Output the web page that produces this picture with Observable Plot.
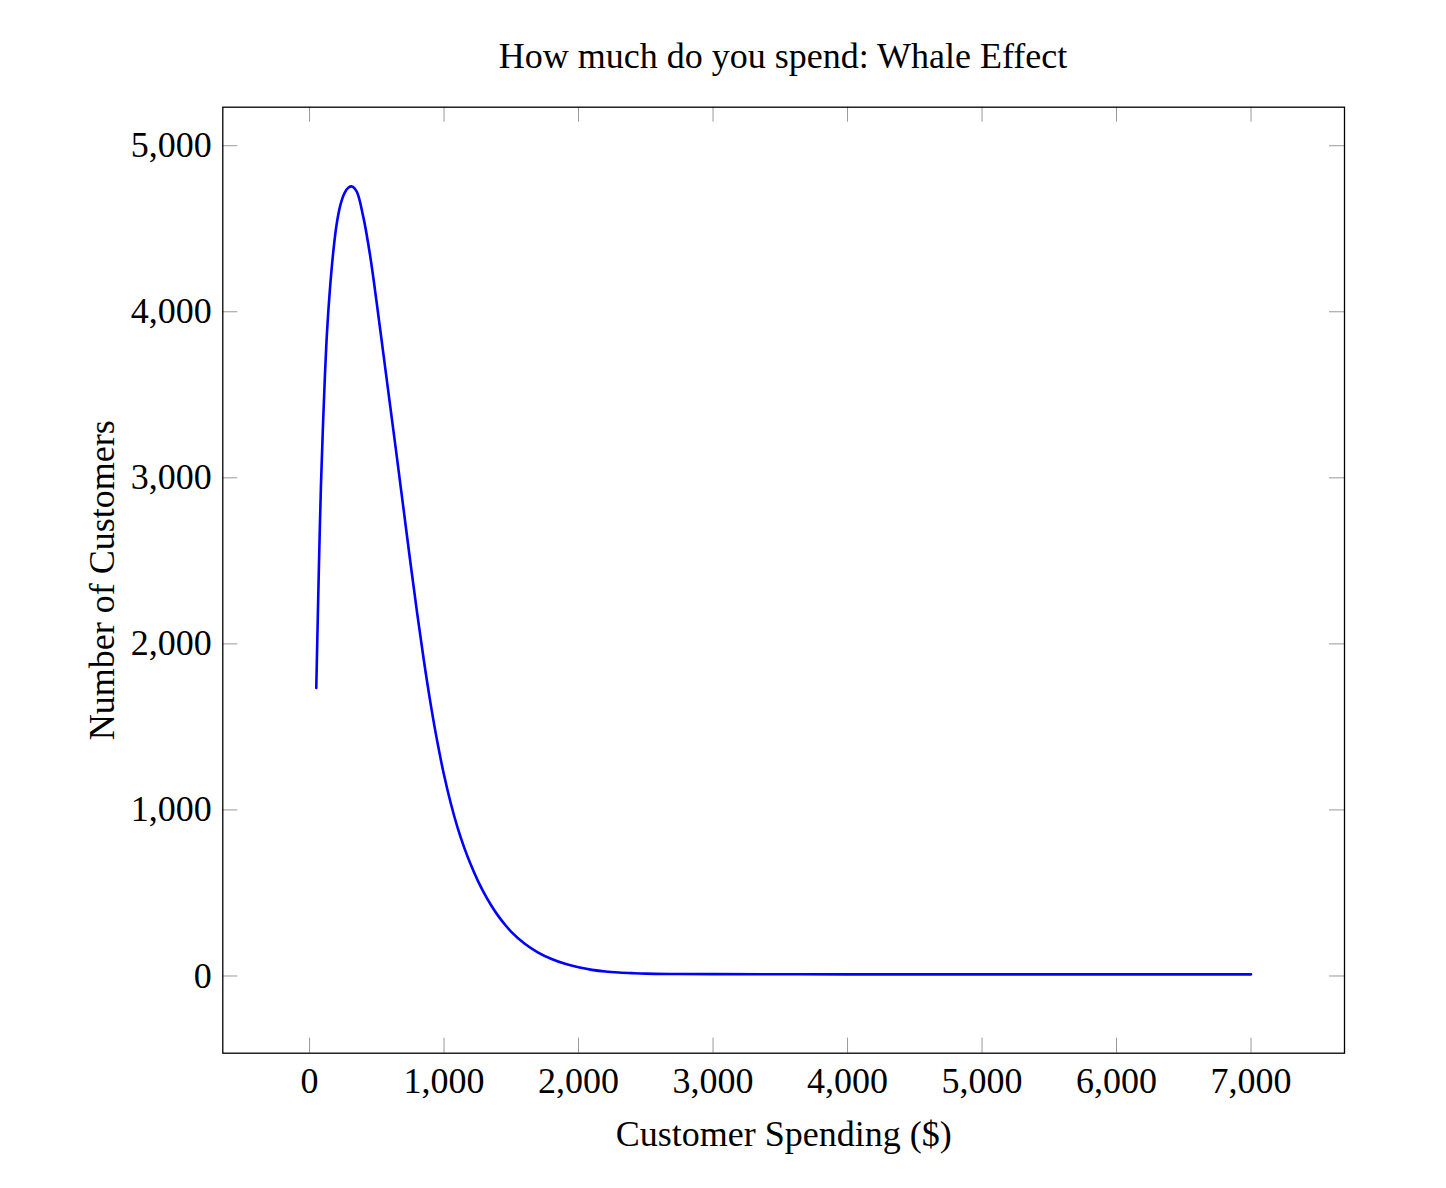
<!DOCTYPE html>
<html>
<head>
<meta charset="utf-8">
<script src="https://cdn.jsdelivr.net/npm/d3@7"></script>
<script src="https://cdn.jsdelivr.net/npm/@observablehq/plot@0.6"></script>
<style>
  html, body { margin: 0; padding: 0; background: #fff; }
  #wrap { width: 1446px; height: 1188px; position: relative; font-family: "Liberation Serif", "Times New Roman", serif; }
  #title { height: 90px; box-sizing: border-box; padding-top: 35px; padding-left: 222px; padding-right: 102px;
           text-align: center; font-size: 36px; line-height: normal; white-space: nowrap; color: #000; }
  #chart svg { display: block; }
</style>
</head>
<body>
<div id="wrap">
  <div id="title">How much do you spend: Whale Effect</div>
  <div id="chart"></div>
</div>
<script>
// Data
const title = "How much do you spend: Whale Effect";
const xLabel = "Customer Spending ($)";
const yLabel = "Number of Customers";
const xTicks = [0, 1000, 2000, 3000, 4000, 5000, 6000, 7000];
const yTicks = [0, 1000, 2000, 3000, 4000, 5000];
const spending = [50, 60, 70, 85, 100, 115, 130, 150, 175, 200, 230, 260, 290, 315, 350, 400, 450, 500, 550, 600, 650, 700, 750, 800, 850, 900, 950, 1000, 1050, 1100, 1150, 1200, 1250, 1300, 1350, 1400, 1450, 1500, 1600, 1700, 1800, 1900, 2000, 2100, 2200, 2300, 2400, 2500, 2700, 3000, 4000, 5000, 6000, 7000];
const customers = [1735, 2110, 2480, 2960, 3320, 3630, 3880, 4120, 4350, 4520, 4645, 4715, 4748, 4755, 4725, 4570, 4340, 4050, 3740, 3430, 3120, 2805, 2490, 2185, 1900, 1640, 1410, 1210, 1040, 895, 773, 668, 576, 496, 426, 365, 312, 266, 194, 141, 102, 73, 52, 37, 27, 21, 17, 14, 12, 11, 10, 10, 10, 10];

const data = spending.map((x, i) => ({x, y: customers[i]}));

const W = 1446, H = 1098;
const mT = 16.7, mB = 135.3, mL = 222.3, mR = 102;
const frameH = H - mT - mB;
const frameW = W - mL - mR;
const fmt = d3.format(",");
const tickLen = 15;

const chart = Plot.plot({
  width: W,
  height: H,
  marginTop: mT,
  marginBottom: mB,
  marginLeft: mL,
  marginRight: mR,
  style: {fontFamily: "'Liberation Serif', 'Times New Roman', serif", fontSize: "36px", background: "white", color: "black"},
  x: {domain: [-645, 7695]},
  y: {domain: [-465, 5232]},
  marks: [
    Plot.axisX(xTicks, {anchor: "bottom", tickSize: 0, tickPadding: 14, tickFormat: fmt, label: null, fontSize: 36}),
    Plot.axisY(yTicks, {anchor: "left", tickSize: 0, tickPadding: 11, tickFormat: fmt, label: null, fontSize: 36}),
    Plot.tickX(xTicks, {x: d => d, insetTop: frameH - tickLen, stroke: "#999", strokeWidth: 1}),
    Plot.tickX(xTicks, {x: d => d, insetBottom: frameH - tickLen, stroke: "#999", strokeWidth: 1}),
    Plot.tickY(yTicks, {y: d => d, insetRight: frameW - tickLen, stroke: "#999", strokeWidth: 1}),
    Plot.tickY(yTicks, {y: d => d, insetLeft: frameW - tickLen, stroke: "#999", strokeWidth: 1}),
    Plot.line(data, {x: "x", y: "y", stroke: "#0000ff", strokeWidth: 2.6, curve: "catmull-rom"}),
    Plot.frame({stroke: "black", strokeWidth: 1.3}),
    Plot.text([xLabel], {text: d => d, frameAnchor: "bottom", lineAnchor: "bottom", textAnchor: "middle", dy: 93, fontSize: 36, fill: "black"}),
    Plot.text([yLabel], {text: d => d, frameAnchor: "left", lineAnchor: "bottom", textAnchor: "middle", rotate: -90, dx: -109, fontSize: 36, fill: "black"})
  ]
});
document.getElementById("chart").appendChild(chart);
</script>
</body>
</html>
